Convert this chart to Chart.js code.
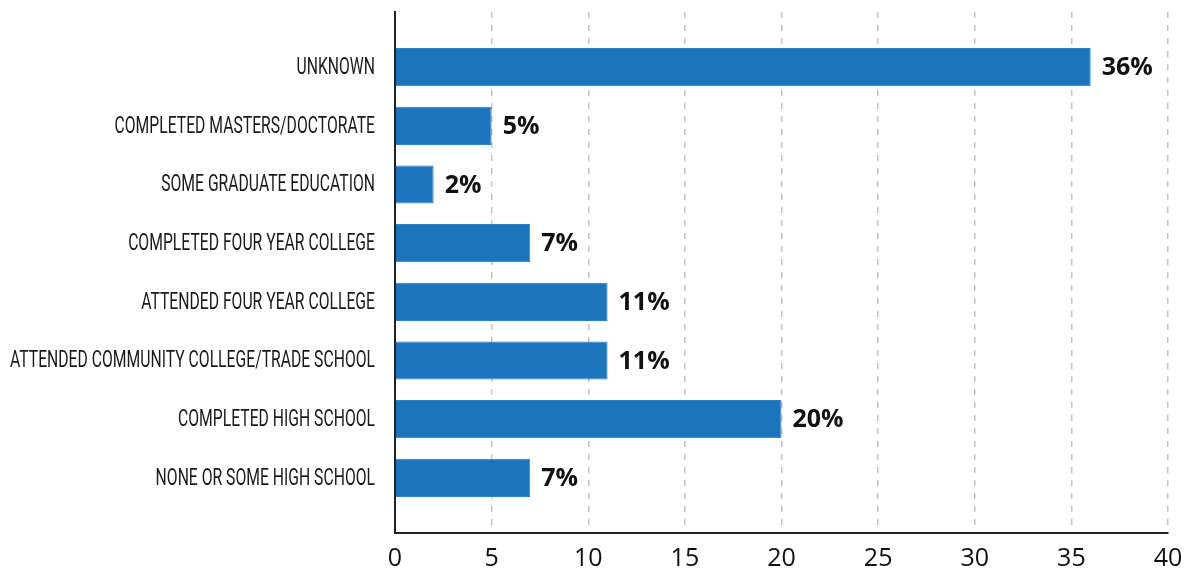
<!DOCTYPE html>
<html>
<head>
<meta charset="utf-8">
<script src="https://cdn.jsdelivr.net/npm/chart.js@4"></script>
<style>
  html, body { margin: 0; padding: 0; background: #fff; }
  #wrap { width: 1190px; height: 572px; }
</style>
</head>
<body>
<div id="wrap"><canvas id="eduChart" width="1190" height="572"></canvas></div>
<script>
// カテゴリと値（上から順）
const categories = [
    'UNKNOWN',
    'COMPLETED MASTERS/DOCTORATE',
    'SOME GRADUATE EDUCATION',
    'COMPLETED FOUR YEAR COLLEGE',
    'ATTENDED FOUR YEAR COLLEGE',
    'ATTENDED COMMUNITY COLLEGE/TRADE SCHOOL',
    'COMPLETED HIGH SCHOOL',
    'NONE OR SOME HIGH SCHOOL'
];
const percents = [36, 5, 2, 7, 11, 11, 20, 7];
const xTicks = [0, 5, 10, 15, 20, 25, 30, 35, 40];

const points = percents.map((v, i) => ({ x: v, y: i }));

// バーの右に「36%」を描く
const valueLabels = {
    id: 'valueLabels',
    afterDatasetsDraw(chart) {
        const ctx = chart.ctx;
        const meta = chart.getDatasetMeta(0);
        ctx.save();
        ctx.font = 'bold 25px "Open Sans"';
        ctx.fillStyle = '#111';
        ctx.textBaseline = 'middle';
        ctx.textAlign = 'left';
        meta.data.forEach((bar, i) => {
            ctx.fillText(percents[i] + '%', bar.x + 11, bar.y + 1);
        });
        ctx.restore();
    }
};

// 縦軸のラベル（細めの書体の代わりに横方向を縮める）
const categoryLabels = {
    id: 'categoryLabels',
    afterDraw(chart) {
        const ctx = chart.ctx;
        const yScale = chart.scales.y;
        const right = yScale.right - 20;
        ctx.save();
        ctx.font = '23px Roboto';
        ctx.fillStyle = '#1a1a1a';
        ctx.textBaseline = 'middle';
        ctx.textAlign = 'right';
        const longest = Math.max(...categories.map(c => ctx.measureText(c).width));
        const k = 365 / longest;
        categories.forEach((c, i) => {
            const y = yScale.getPixelForValue(i);
            ctx.save();
            ctx.translate(right, y + 1);
            ctx.scale(k, 1);
            ctx.fillText(c, 0, 0);
            ctx.restore();
        });
        ctx.restore();
    }
};

const config = {
    type: 'bar',
    data: {
        datasets: [{
            data: points,
            backgroundColor: '#1c75bc',
            borderColor: '#2b80c4',
            borderWidth: 1,
            categoryPercentage: 1,
            barPercentage: 0.65
        }]
    },
    options: {
        indexAxis: 'y',
        responsive: false,
        animation: false,
        layout: { padding: { top: 12, right: 22, left: 0, bottom: 0 } },
        plugins: {
            legend: { display: false },
            tooltip: { enabled: false }
        },
        scales: {
            x: {
                type: 'linear',
                min: 0,
                max: 40,
                afterBuildTicks: s => { s.ticks = xTicks.map(v => ({ value: v })); },
                afterFit: s => { s.height = 39; s.paddingRight = 0; s.paddingLeft = 0; },
                border: { display: true, color: '#222', width: 2 },
                grid: {
                    color: c => c.tick && c.tick.value === 0 ? 'rgba(0,0,0,0)' : '#c4c4c4',
                    lineWidth: 1.5,
                    drawTicks: false
                },
                ticks: {
                    padding: 11,
                    color: '#111',
                    font: { family: '"Open Sans"', size: 25 }
                }
            },
            y: {
                type: 'linear',
                reverse: true,
                offset: false,
                min: -0.94,
                max: 7.94,
                afterBuildTicks: s => { s.ticks = categories.map((c, i) => ({ value: i })); },
                afterFit: s => { s.width = 395; },
                border: { display: true, color: '#222', width: 2 },
                grid: { display: false, drawTicks: false },
                ticks: { display: false }
            }
        }
    },
    plugins: [valueLabels, categoryLabels]
};

const chart = new Chart(document.getElementById('eduChart').getContext('2d'), config);
// 破線のグリッド
chart.options.scales.x.border.dash = [6, 7];
chart.options.scales.x.grid.borderDash = [6, 7];
chart.update();
</script>
</body>
</html>
